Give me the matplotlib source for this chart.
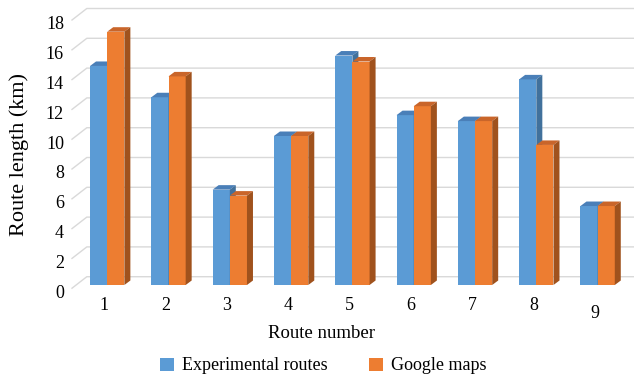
import matplotlib
matplotlib.use("Agg")
import matplotlib.pyplot as plt
from matplotlib.patches import Polygon, Patch
import numpy as np

plt.rcParams['font.family'] = ['Liberation Serif', 'DejaVu Serif']

routes = ['1', '2', '3', '4', '5', '6', '7', '8', '9']
experimental = [14.7, 12.6, 6.4, 10.0, 15.4, 11.4, 11.0, 13.8, 5.3]
google = [17.0, 14.0, 6.0, 10.0, 15.0, 12.0, 11.0, 9.4, 5.3]
yticks = [0, 2, 4, 6, 8, 10, 12, 14, 16, 18]
series_names = ['Experimental routes', 'Google maps']

# front / top / side colours for each series
blue = ('#5B9BD5', '#4A7FB8', '#41719C')
orange = ('#ED7D31', '#C9652A', '#A0521D')

fig = plt.figure(figsize=(6.34, 3.77), dpi=100)
ax = fig.add_axes([76 / 634, 92 / 377, 547 / 634, 268.2 / 377])
ax.set_xlim(-0.509, 8.414)
ax.set_ylim(0, 18)
ax.axis('off')

x = np.arange(len(routes))
width = 0.28

bar_depth = (6, 4.5)     # pixels, depth of a bar (side/top faces)
back = (10.8, 8.3)       # pixels, bar-front plane -> back wall
front = (-4, -3.2)       # pixels, bar-front plane -> front of side wall


def shift(px, py, d):
    """data point moved by d pixels, returned in data coords"""
    disp = ax.transData.transform((px, py))
    return ax.transData.inverted().transform((disp[0] + d[0], disp[1] + d[1]))


xl, xr = ax.get_xlim()
for v in yticks:
    a = shift(xl, v, front)
    b = shift(xl, v, back)
    c = shift(xr, v, back)
    ax.plot([a[0], b[0], c[0]], [a[1], b[1], c[1]], color='#D9D9D9',
            lw=1.0, clip_on=False, zorder=1)
    lab = shift(xl, v, (-12, -8))
    ax.text(lab[0], lab[1], str(v), ha='right', va='center', fontsize=13)


def draw_bar(x0, h, cols, z):
    x1 = x0 + width
    ax.bar(x0, h, width, align='edge', color=cols[0], zorder=z)
    top = [(x0, h), (x1, h), tuple(shift(x1, h, bar_depth)), tuple(shift(x0, h, bar_depth))]
    side = [(x1, 0), (x1, h), tuple(shift(x1, h, bar_depth)), tuple(shift(x1, 0, bar_depth))]
    ax.add_patch(Polygon(top, closed=True, facecolor=cols[1], edgecolor='none',
                         zorder=z, clip_on=False))
    ax.add_patch(Polygon(side, closed=True, facecolor=cols[2], edgecolor='none',
                         zorder=z, clip_on=False))


for i in range(len(routes)):
    draw_bar(x[i] - width, experimental[i], blue, 3)
    draw_bar(x[i], google[i], orange, 4)

# category labels (the last one sits a bit lower in the original)
for i, r in enumerate(routes):
    drop = -28 if r == '9' else -20
    p = shift(x[i], 0, (-3, drop))
    ax.text(p[0], p[1], r, ha='center', va='center', fontsize=13)

fig.text(322 / 634, 1 - 333 / 377, 'Route number', ha='center', va='center', fontsize=13.5)
fig.text(19 / 634, 1 - 155 / 377, 'Route length (km)', ha='center', va='center',
         rotation=90, fontsize=16)

handles = [Patch(facecolor=blue[0]), Patch(facecolor=orange[0])]
fig.legend(handles, series_names, loc='center', bbox_to_anchor=(0.51, 1 - 366 / 377),
           ncol=2, frameon=False, fontsize=13, handlelength=0.75, handleheight=0.75,
           handletextpad=0.45, columnspacing=2.3, borderaxespad=0)

fig.savefig('out.png', dpi=100)
